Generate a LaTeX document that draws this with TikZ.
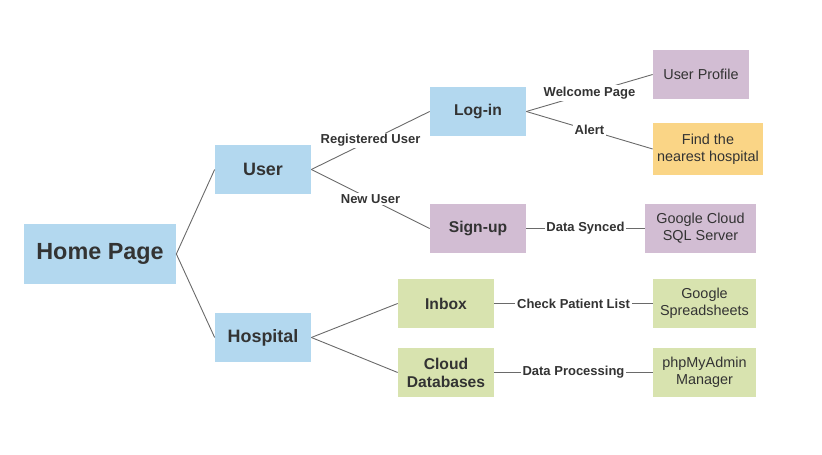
\documentclass[tikz,border=0pt]{standalone}
\usepackage{fontspec}
\setmainfont{Liberation Sans}
\definecolor{boxblue}{HTML}{B3D8EF}
\definecolor{boxpurple}{HTML}{D2BDD3}
\definecolor{boxyellow}{HTML}{FAD586}
\definecolor{boxgreen}{HTML}{D8E3AF}
\definecolor{inktext}{HTML}{333333}
\definecolor{inkline}{HTML}{6A6A6A}
\tikzset{
  box/.style={inner sep=0pt, align=center, text=inktext, font=\fontsize{8.2pt}{9.6pt}\selectfont},
  bluebox/.style={box, fill=boxblue},
  purplebox/.style={box, fill=boxpurple},
  yellowbox/.style={box, fill=boxyellow},
  greenbox/.style={box, fill=boxgreen},
  mid/.style={minimum width=1.920000cm, minimum height=0.980000cm, font=\fontsize{8.9pt}{10.2pt}\selectfont\bfseries},
  link/.style={draw=inkline, line width=0.018cm},
  linklabel/.style={fill=white, inner sep=1pt, text=inktext, font=\fontsize{7.4pt}{8.8pt}\selectfont\bfseries}
}
\begin{document}
\begin{tikzpicture}
                \useasboundingbox (0.000000,0.000000) rectangle (16.440000,9.100000);

                % Drawing box Home Page
                \node [bluebox, minimum width=3.040000cm, minimum height=1.200000cm, font=\fontsize{13.3pt}{15pt}\selectfont\bfseries] (home) at (2.000000,4.020000) {Home Page};%

                % Drawing boxes User and Hospital
                \node [bluebox, minimum width=1.920000cm, minimum height=0.980000cm, font=\fontsize{10.2pt}{12pt}\selectfont\bfseries] (user) at (5.260000,5.710000) {User};%
                \node [bluebox, minimum width=1.920000cm, minimum height=0.980000cm, font=\fontsize{10.2pt}{12pt}\selectfont\bfseries] (hospital) at (5.260000,2.350000) {Hospital};%

                % Drawing boxes of the middle column
                \node [bluebox, mid] (login) at (9.560000,6.870000) {Log-in};%
                \node [purplebox, mid] (signup) at (9.560000,4.530000) {Sign-up};%
                \node [greenbox, mid] (inbox) at (8.920000,3.030000) {Inbox};%
                \node [greenbox, mid] (clouddb) at (8.920000,1.650000) {Cloud\\Databases};%

                % Drawing boxes of the right column
                \node [purplebox, minimum width=1.920000cm, minimum height=0.980000cm] (profile) at (14.020000,7.610000) {User Profile};%
                \node [yellowbox, minimum width=2.200000cm, minimum height=1.040000cm] (nearest) at (14.160000,6.120000) {Find the\\nearest hospital};%
                \node [purplebox, minimum width=2.220000cm, minimum height=0.980000cm] (cloudsql) at (14.010000,4.530000) {Google Cloud\\SQL Server};%
                \node [greenbox, minimum width=2.060000cm, minimum height=0.980000cm] (sheets) at (14.090000,3.030000) {Google\\Spreadsheets};%
                \node [greenbox, minimum width=2.060000cm, minimum height=0.980000cm] (phpadmin) at (14.090000,1.650000) {phpMyAdmin\\Manager};%

                % Drawing links from Home Page
                \draw [link] (home.east) -- (user.west);%
                \draw [link] (home.east) -- (hospital.west);%

                % Drawing links from User
                \draw [link] (user.east) -- node [linklabel] {Registered User} (login.west);%
                \draw [link] (user.east) -- node [linklabel] {New User} (signup.west);%

                % Drawing links from Log-in
                \draw [link] (login.east) -- node [linklabel] {Welcome Page} (profile.west);%
                \draw [link] (login.east) -- node [linklabel] {Alert} (nearest.west);%

                % Drawing link from Sign-up
                \draw [link] (signup.east) -- node [linklabel] {Data Synced} (cloudsql.west);%

                % Drawing links from Hospital
                \draw [link] (hospital.east) -- (inbox.west);%
                \draw [link] (hospital.east) -- (clouddb.west);%

                % Drawing links to the green boxes on the right
                \draw [link] (inbox.east) -- node [linklabel] {Check Patient List} (sheets.west);%
                \draw [link] (clouddb.east) -- node [linklabel] {Data Processing} (phpadmin.west);%
\end{tikzpicture}
\end{document}
